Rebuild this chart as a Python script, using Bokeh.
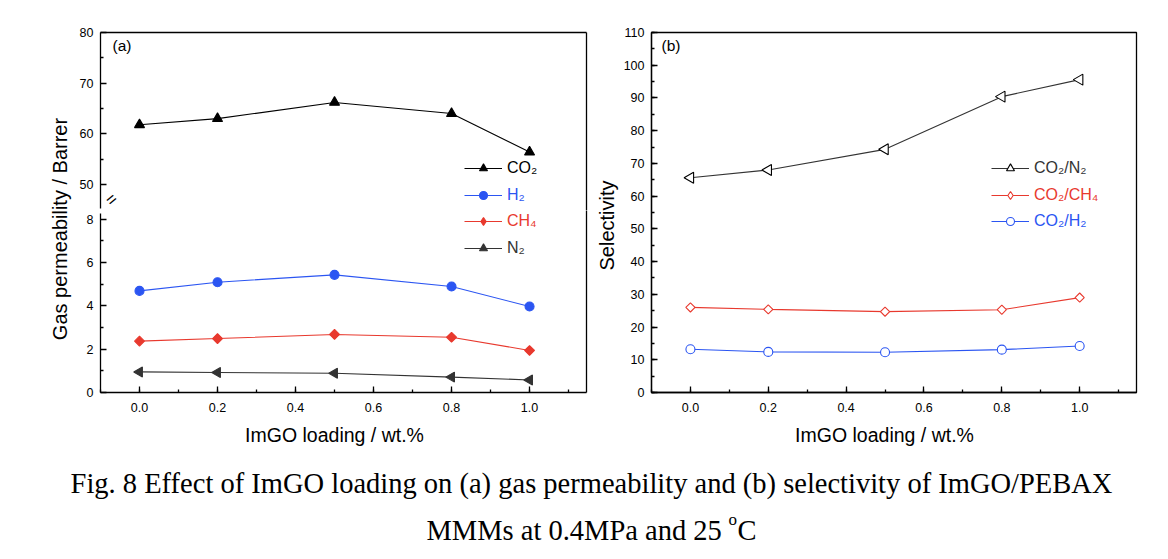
import math
from bokeh.plotting import figure
from bokeh.models import (Range1d, LinearAxis, FixedTicker, SingleIntervalTicker,
                          PrintfTickFormatter, Legend, LegendItem, Label, ColumnDataSource)
from bokeh.layouts import row, column
from bokeh.embed import file_html
from bokeh.resources import INLINE

# ---------------- data ----------------
loading = [0.0, 0.2, 0.5, 0.8, 1.0]
co2_perm = [61.8, 63.0, 66.2, 64.0, 56.4]
h2_perm = [4.69, 5.09, 5.43, 4.89, 3.97]
ch4_perm = [2.37, 2.49, 2.68, 2.55, 1.94]
n2_perm = [0.95, 0.92, 0.89, 0.71, 0.58]

sel_co2_n2 = [65.6, 68.0, 74.3, 90.4, 95.6]
sel_co2_ch4 = [26.0, 25.4, 24.7, 25.3, 29.0]
sel_co2_h2 = [13.2, 12.4, 12.3, 13.1, 14.2]

upper_ticks = [50, 60, 70, 80]
upper_minor = [55, 65, 75]
lower_ticks = [0, 2, 4, 6, 8]
lower_minor = [1, 3, 5, 7]

x_label = "ImGO loading / wt.%"
y_label_a = "Gas permeability / Barrer"
y_label_b = "Selectivity"
caption_1 = "Fig. 8 Effect of ImGO loading on (a) gas permeability and (b) selectivity of ImGO/PEBAX"
caption_2 = "MMMs at 0.4MPa and 25"

# ---------------- style ----------------
SANS = "Liberation Sans"
SERIF = "Liberation Serif"
BLUE = "#2b55f2"
RED = "#e8392e"
DARK = "#333333"
LW = 1.3


def style_axis(ax, standoff):
    ax.axis_line_color = "black"
    ax.axis_line_width = LW
    ax.major_tick_in = 6
    ax.major_tick_out = 0
    ax.minor_tick_in = 3
    ax.minor_tick_out = 0
    ax.major_tick_line_width = LW
    ax.minor_tick_line_width = LW
    ax.major_tick_line_color = "black"
    ax.minor_tick_line_color = "black"
    ax.major_label_text_font = SANS
    ax.major_label_text_font_size = "12.5px"
    ax.major_label_text_color = "black"
    ax.major_label_standoff = standoff


def frame_axis(p, side):
    ax = LinearAxis(ticker=FixedTicker(ticks=[]), major_label_text_font_size="0px",
                    major_tick_in=0, major_tick_out=0, minor_tick_in=0, minor_tick_out=0,
                    axis_line_color="black", axis_line_width=LW, major_label_standoff=0)
    p.add_layout(ax, side)


def base_fig(**kw):
    p = figure(output_backend="svg", toolbar_location=None, **kw)
    p.grid.visible = False
    p.background_fill_color = "white"
    p.border_fill_color = "white"
    return p


def blank_fig(width, height):
    p = base_fig(width=width, height=height, x_range=Range1d(0, 1), y_range=Range1d(0, 1),
                 x_axis_location=None, y_axis_location=None, min_border=0)
    p.outline_line_color = None
    return p


def series(p, y, color, marker, size, fill, angle=0.0, line_color=None, y_range_name="default"):
    src = ColumnDataSource(dict(x=loading, y=y))
    l = p.line("x", "y", source=src, line_color=line_color or color, line_width=1.1,
               y_range_name=y_range_name)
    s = p.scatter("x", "y", source=src, marker=marker, size=size, fill_color=fill,
                  line_color=color, angle=angle, line_width=1.1, y_range_name=y_range_name)
    return [l, s]


def add_legend(p, label, renderers, color, x, y, standoff):
    lg = Legend(items=[LegendItem(label=label, renderers=renderers)], location=(x, y),
                orientation="vertical", padding=0, margin=0, spacing=0,
                glyph_width=38, glyph_height=20, label_height=20, label_standoff=standoff,
                border_line_color=None, background_fill_alpha=0,
                label_text_font=SANS, label_text_font_size="16px", label_text_color=color)
    p.add_layout(lg)


def text_label(p, x, y, text, size, font=SANS, align="left", baseline="alphabetic",
               angle=0.0, color="black"):
    p.add_layout(Label(x=x, y=y, x_units="screen", y_units="screen", text=text,
                       text_font=font, text_font_size=size, text_align=align,
                       text_baseline=baseline, angle=angle, text_color=color))


# ---------------- left panel: broken axis (upper + lower) ----------------
xr_left = Range1d(-0.1, 1.146)

uf = base_fig(width=514, height=210, x_range=xr_left, y_range=Range1d(44.87, 80),
              x_axis_location=None, min_border_left=24, min_border_right=4,
              min_border_top=32, min_border_bottom=0)
uf.outline_line_color = None
uf.extra_y_ranges = {"hidden": Range1d(1000, 1001)}
ya = uf.yaxis[0]
ya.ticker = FixedTicker(ticks=upper_ticks, minor_ticks=upper_minor)
ya.bounds = (45.3, 80)
style_axis(ya, 7)
frame_axis(uf, "above")
frame_axis(uf, "right")

lf = base_fig(width=514, height=210, x_range=xr_left, y_range=Range1d(0, 8.40),
              min_border_left=24, min_border_right=4, min_border_top=0, min_border_bottom=28)
lf.outline_line_color = None
lf.extra_y_ranges = {"hidden": Range1d(1000, 1001)}
yb = lf.yaxis[0]
yb.ticker = FixedTicker(ticks=lower_ticks, minor_ticks=lower_minor)
yb.bounds = (0, 8.26)
style_axis(yb, 7)
xb = lf.xaxis[0]
xb.ticker = SingleIntervalTicker(interval=0.2, num_minor_ticks=2)
xb.formatter = PrintfTickFormatter(format="%.1f")
style_axis(xb, 10)
frame_axis(lf, "right")

# visible data
r_co2 = series(uf, co2_perm, "black", "triangle", 10, "black")
series(lf, h2_perm, BLUE, "circle", 9, BLUE)
series(lf, ch4_perm, RED, "square", 7, RED, angle=math.pi / 4)
r_n2 = series(lf, n2_perm, DARK, "triangle", 10, DARK, angle=math.pi / 2)

# legend keys (same series on an out-of-view range, so the key lives in the legend's plot)
k_h2 = series(uf, h2_perm, BLUE, "circle", 9, BLUE, y_range_name="hidden")
k_ch4 = series(lf, ch4_perm, RED, "diamond", 11, RED, y_range_name="hidden")

add_legend(uf, "CO\u2082", r_co2, "black", 364, 32, 5)
add_legend(uf, "H\u2082", k_h2, BLUE, 364, 5, 5)
add_legend(lf, "CH\u2084", k_ch4, RED, 364, 161, 5)
add_legend(lf, "N\u2082", r_n2, DARK, 364, 134, 5)

text_label(uf, 12, 165, "(a)", "15.5px", baseline="middle")
# axis-break mark, kept inside the frame
text_label(uf, 11, 11, "=", "17px", align="center", baseline="middle", angle=0.7)

ylab = blank_fig(76, 420)
text_label(ylab, 59, 163.5, y_label_a, "20px", align="center", angle=math.pi / 2)

# ---------------- right panel ----------------
sel = blank_fig(30, 420)
text_label(sel, 16, 167, y_label_b, "20px", align="center", angle=math.pi / 2)

rf = base_fig(width=548, height=420, x_range=Range1d(-0.1, 1.146), y_range=Range1d(0, 110),
              min_border_left=30, min_border_right=32, min_border_top=32, min_border_bottom=28)
rf.outline_line_color = "black"
rf.outline_line_width = LW
rf.extra_y_ranges = {"hidden": Range1d(1000, 1001)}
ry = rf.yaxis[0]
ry.ticker = SingleIntervalTicker(interval=10, num_minor_ticks=2)
style_axis(ry, 7)
rx = rf.xaxis[0]
rx.ticker = SingleIntervalTicker(interval=0.2, num_minor_ticks=2)
rx.formatter = PrintfTickFormatter(format="%.1f")
style_axis(rx, 10)

s_n2 = series(rf, sel_co2_n2, "black", "triangle", 11, "white", angle=math.pi / 2, line_color=DARK)
series(rf, sel_co2_ch4, RED, "square", 6.5, "white", angle=math.pi / 4)
s_h2 = series(rf, sel_co2_h2, BLUE, "circle", 9, "white")
k_sch4 = series(rf, sel_co2_ch4, RED, "diamond", 11, "white", y_range_name="hidden")

add_legend(rf, "CO\u2082/N\u2082", s_n2, DARK, 340, 214, 5)
add_legend(rf, "CO\u2082/CH\u2084", k_sch4, RED, 340, 187, 5)
add_legend(rf, "CO\u2082/H\u2082", s_h2, BLUE, 340, 161, 5)

text_label(rf, 10, 347, "(b)", "15.5px", baseline="middle")

# ---------------- bottom strip: x-axis titles and caption ----------------
cf = blank_fig(1168, 139)
text_label(cf, 334, 124.5, x_label, "19.5px", align="center")
text_label(cf, 884, 124.5, x_label, "19.5px", align="center")
text_label(cf, 591, 76, caption_1, "28.5px", font=SERIF, align="center")
text_label(cf, 426, 29, caption_2, "28.5px", font=SERIF)
text_label(cf, 728, 40, "o", "17px", font=SERIF)
text_label(cf, 737, 29, "C", "28.5px", font=SERIF)

top = row(ylab, column(uf, lf), sel, rf)
layout = column(top, cf)
open("out.html", "w").write(file_html(layout, INLINE))
